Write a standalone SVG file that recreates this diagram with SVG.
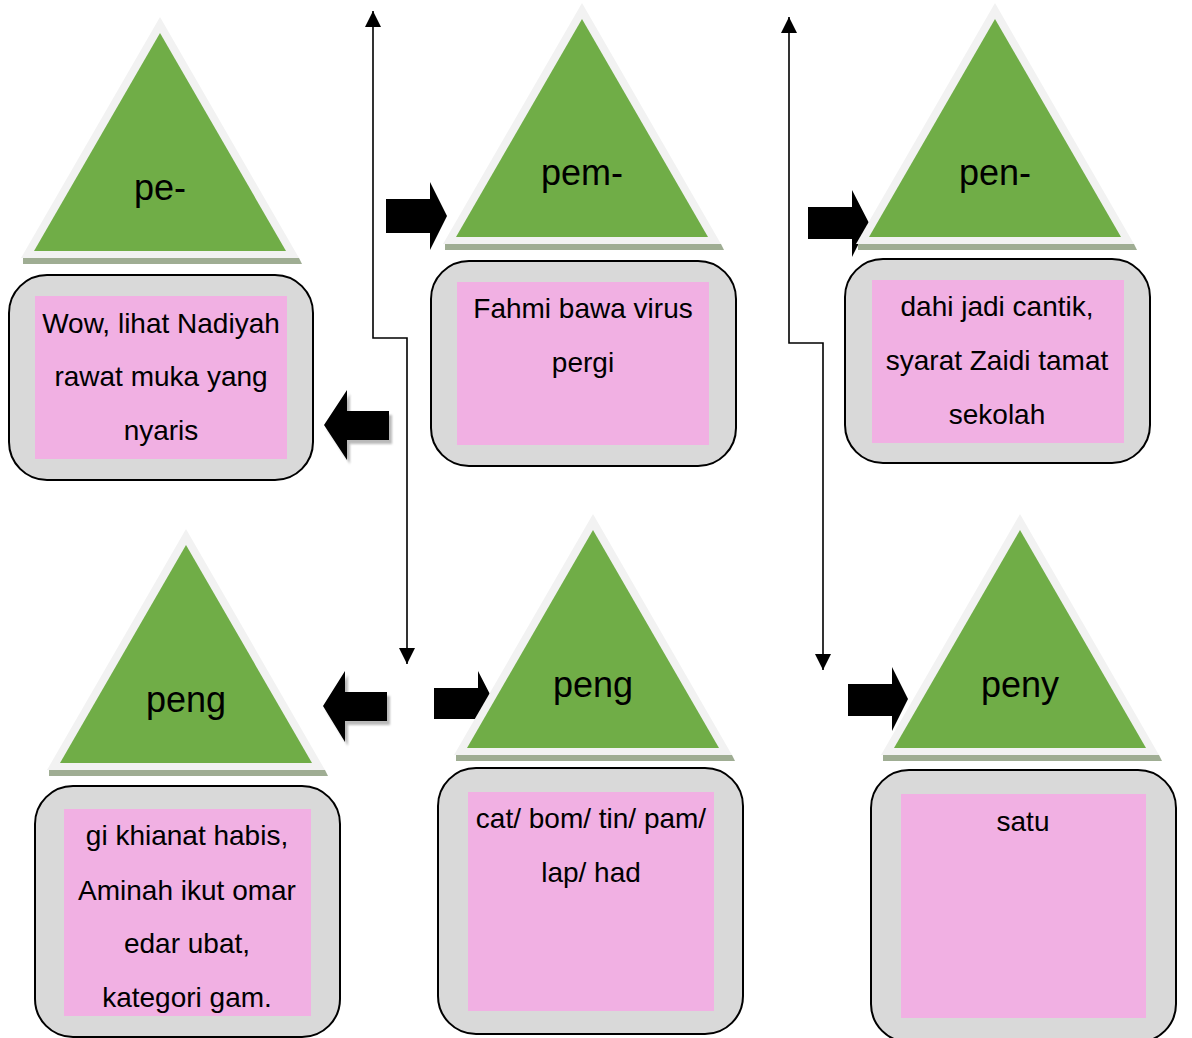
<svg xmlns="http://www.w3.org/2000/svg" xmlns:xlink="http://www.w3.org/1999/xlink" width="1192" height="1038" viewBox="0 0 1192 1038">
<style>
.bg{fill:#ffffff}
.outer{fill:#f2f2f2}
.green{fill:#70ad47}
.shadow{fill:#9fad93}
.box{fill:#d9d9d9;stroke:#000000;stroke-width:2}
.pink{fill:#f1b0e3}
.lbl{font-family:"Liberation Sans",Arial,sans-serif;font-size:36px;fill:#000000;text-anchor:middle}
.txt{font-family:"Liberation Sans",Arial,sans-serif;font-size:28px;fill:#000000;text-anchor:middle}
.line{fill:none;stroke:#000000;stroke-width:1.6}
.blk{fill:#000000}
.ash{fill:#8c8c8c;opacity:0.6;filter:url(#blur)}
</style>
<defs>
<filter id="blur" x="-20%" y="-20%" width="140%" height="140%"><feGaussianBlur stdDeviation="1.2"/></filter>
<marker id="ah" markerUnits="userSpaceOnUse" markerWidth="16" markerHeight="16" viewBox="0 0 10 10" refX="10" refY="5" orient="auto-start-reverse">
<path d="M0,0 L10,5 L0,10 z" fill="#000000"/>
</marker>
<g id="tri">
<polygon class="shadow" points="-137,225 139,225 142,231 -137,231"/>
<polygon class="outer" points="0,-16 139,225 -139,225"/>
<polygon class="green" points="0,0 126,218 -126,218"/>
</g>
</defs>
<rect class="bg" x="0" y="0" width="1192" height="1038"/>
<g id="connectors">
<path class="line" d="M407,664 V338 H373 V11" marker-start="url(#ah)" marker-end="url(#ah)"/>
<path class="line" d="M789,17 V343 H823 V670" marker-start="url(#ah)" marker-end="url(#ah)"/>
<polygon class="blk" points="386,199 430,199 430,182 447,216 430,250 430,233 386,233"/>
<polygon class="blk" points="808,207 852,207 852,190 869,223 852,257 852,239 808,239"/>
<polygon class="blk" points="434,688 478,688 478,671 495,704 478,737 478,719 434,719"/>
<polygon class="blk" points="848,684 892,684 892,667 908,699 892,731 892,716 848,716"/>
<polygon class="ash" transform="translate(3,4)" points="324,425 347,390 347,411 389,411 389,440 347,440 347,460"/>
<polygon class="blk" points="324,425 347,390 347,411 389,411 389,440 347,440 347,460"/>
<polygon class="ash" transform="translate(3,4)" points="323,706 345,671 345,692 387,692 387,721 345,721 345,742"/>
<polygon class="blk" points="323,706 345,671 345,692 387,692 387,721 345,721 345,742"/>
</g>
<g id="node-pe">
<use xlink:href="#tri" href="#tri" transform="translate(160,33)"/>
<text class="lbl" x="160" y="200">pe-</text>
<rect class="box" x="9" y="275" width="304" height="205" rx="38" ry="38"/>
<rect class="pink" x="35" y="296" width="252" height="163"/>
<text class="txt" x="161" y="333">Wow, lihat Nadiyah</text>
<text class="txt" x="161" y="386">rawat muka yang</text>
<text class="txt" x="161" y="440">nyaris</text>
</g>
<g id="node-pem">
<use xlink:href="#tri" href="#tri" transform="translate(582,19)"/>
<text class="lbl" x="582" y="185">pem-</text>
<rect class="box" x="431" y="261" width="305" height="205" rx="38" ry="38"/>
<rect class="pink" x="457" y="282" width="252" height="163"/>
<text class="txt" x="583" y="318">Fahmi bawa virus</text>
<text class="txt" x="583" y="372">pergi</text>
</g>
<g id="node-pen">
<use xlink:href="#tri" href="#tri" transform="translate(995,19)"/>
<text class="lbl" x="995" y="185">pen-</text>
<rect class="box" x="845" y="259" width="305" height="204" rx="38" ry="38"/>
<rect class="pink" x="872" y="280" width="252" height="163"/>
<text class="txt" x="997" y="316">dahi jadi cantik,</text>
<text class="txt" x="997" y="370">syarat Zaidi tamat</text>
<text class="txt" x="997" y="424">sekolah</text>
</g>
<g id="node-peng-left">
<use xlink:href="#tri" href="#tri" transform="translate(186,545)"/>
<text class="lbl" x="186" y="712">peng</text>
<rect class="box" x="35" y="786" width="305" height="251" rx="38" ry="38"/>
<rect class="pink" x="64" y="809" width="247" height="207"/>
<text class="txt" x="187" y="845">gi khianat habis,</text>
<text class="txt" x="187" y="900">Aminah ikut omar</text>
<text class="txt" x="187" y="953">edar ubat,</text>
<text class="txt" x="187" y="1007">kategori gam.</text>
</g>
<g id="node-peng-mid">
<use xlink:href="#tri" href="#tri" transform="translate(593,530)"/>
<text class="lbl" x="593" y="697">peng</text>
<rect class="box" x="438" y="768" width="305" height="266" rx="38" ry="38"/>
<rect class="pink" x="468" y="792" width="246" height="219"/>
<text class="txt" x="591" y="828">cat/ bom/ tin/ pam/</text>
<text class="txt" x="591" y="882">lap/ had</text>
</g>
<g id="node-peny">
<use xlink:href="#tri" href="#tri" transform="translate(1020,530)"/>
<text class="lbl" x="1020" y="697">peny</text>
<rect class="box" x="871" y="770" width="305" height="272" rx="38" ry="38"/>
<rect class="pink" x="901" y="794" width="245" height="224"/>
<text class="txt" x="1023" y="831">satu</text>
</g>
</svg>
